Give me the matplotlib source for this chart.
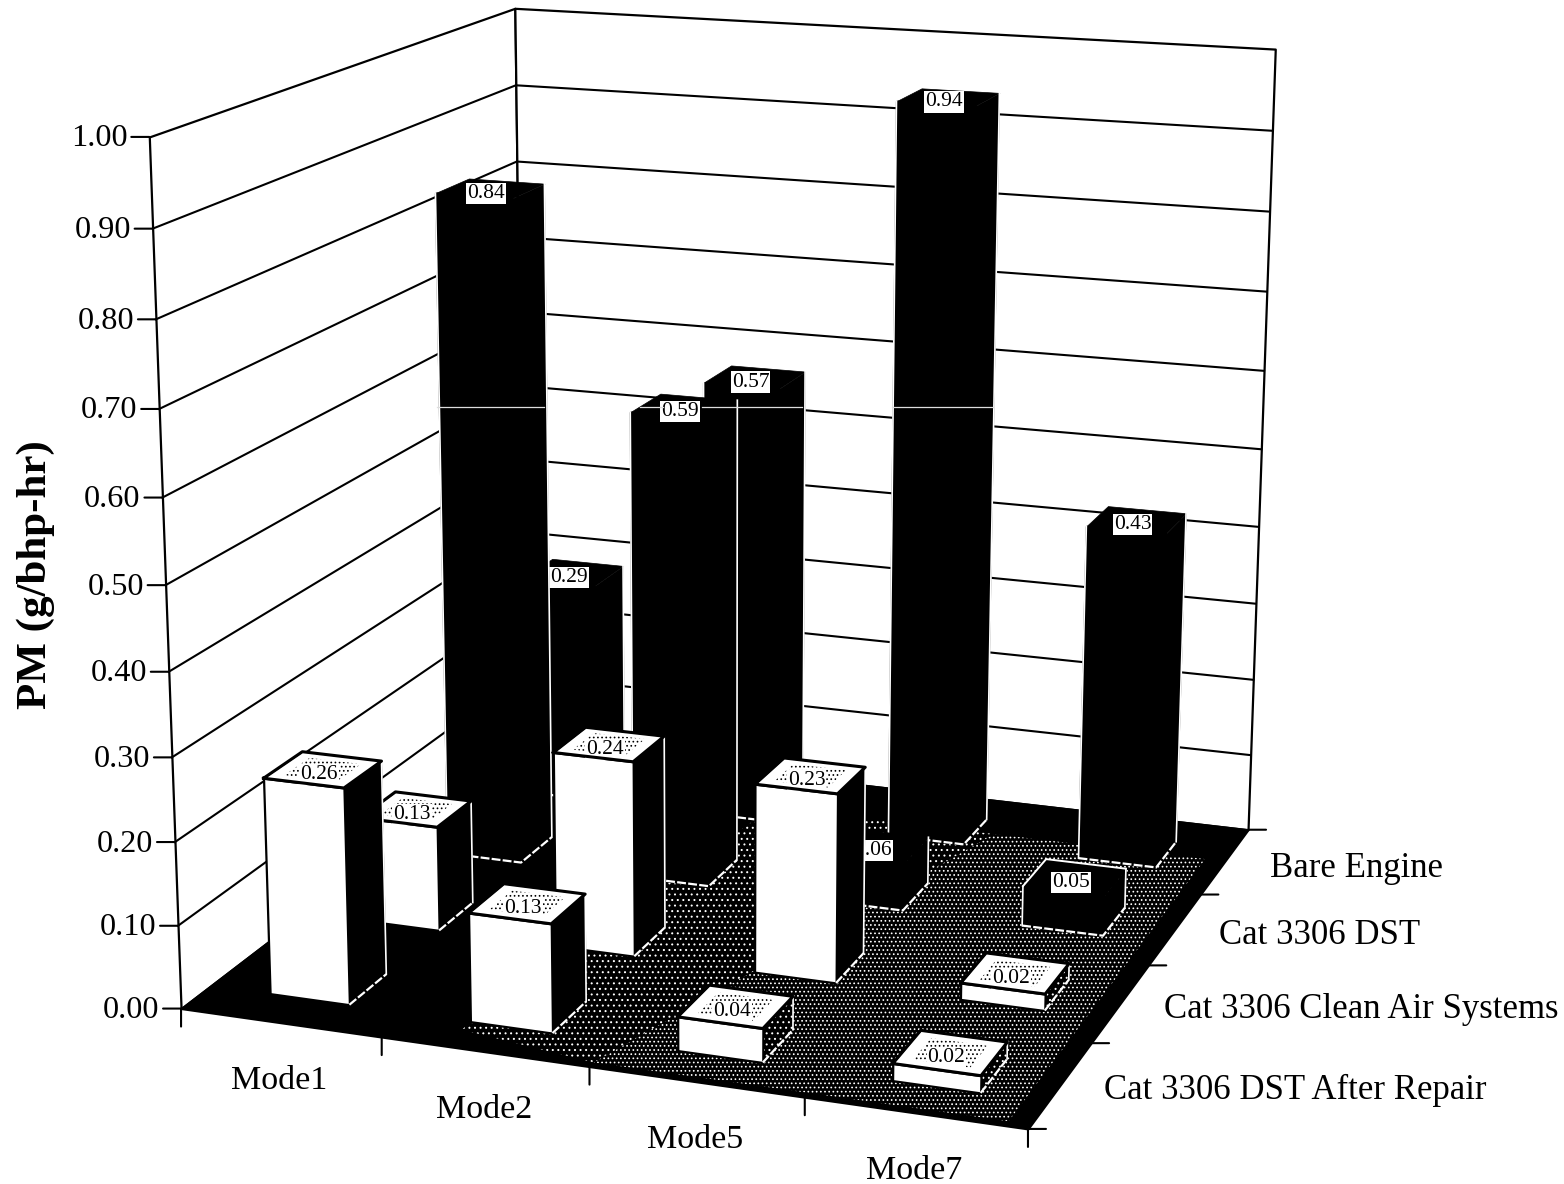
import numpy as np
import matplotlib
matplotlib.use("Agg")
import matplotlib.pyplot as plt
from matplotlib.lines import Line2D
from mpl_toolkits.mplot3d.art3d import Poly3DCollection
from mpl_toolkits.mplot3d import proj3d

plt.rcParams['font.family'] = ['Liberation Serif', 'DejaVu Serif']
plt.rcParams['hatch.linewidth'] = 0.7

# PM emissions per mode, one list per exhaust configuration (front row to back row)
modes = ["Mode1", "Mode2", "Mode5", "Mode7"]
series = ["Cat 3306 DST After Repair", "Cat 3306 Clean Air Systems", "Cat 3306 DST", "Bare Engine"]
after_repair = [0.26, 0.13, 0.04, 0.02]
clean_air = [0.13, 0.24, 0.23, 0.02]
dst = [0.84, 0.59, 0.06, 0.05]
bare_engine = [0.29, 0.57, 0.94, 0.43]
z_ticks = [0.0, 0.1, 0.2, 0.3, 0.4, 0.5, 0.6, 0.7, 0.8, 0.9, 1.0]

rows = [after_repair, clean_air, dst, bare_engine]
row_face = ["white", "white", "black", "black"]

BAR = 0.4  # bar width as a share of one cell
CLEAR = (0, 0, 0, 0)
BASE_DASH = (0, (4, 1))

fig = plt.figure(figsize=(15.64, 11.84), dpi=100)
ax = fig.add_axes([-80 / 1564, -157 / 1184, 1.0, 1564 / 1184], projection='3d')
ax.set_axis_off()
ax.computed_zorder = False
ax.patch.set_visible(False)

ax.set_xlim(-0.1808, 4)
ax.set_ylim(-0.1304, 4)
ax.set_zlim(-0.0558, 1)
ax.set_box_aspect((0.6000, 0.6022, 0.6075), zoom=0.9607)
ax.view_init(elev=15.4, azim=-70.0)
ax.set_proj_type('persp', focal_length=0.50)

M = ax.get_proj()
z_level = [10]


def next_z():
    z_level[0] += 1
    return z_level[0]


def to_2d(x, y, z):
    px, py, _ = proj3d.proj_transform(x, y, z, M)
    return float(px), float(py)


def add_poly(corners, face, edge='black', lw=1.5, hatch=None):
    poly = Poly3DCollection([corners], facecolor=face, edgecolor=edge, linewidth=lw,
                            hatch=hatch, zorder=next_z())
    ax.add_collection3d(poly)


def add_line(xs, ys, zs, color='black', lw=1.5, **kw):
    ax.plot(xs, ys, zs, color=color, lw=lw, zorder=next_z(), **kw)


def tick(x, y, z, dx, dy):
    ax.annotate('', xy=to_2d(x, y, z), xycoords='data', xytext=(dx, dy), textcoords='offset pixels',
                arrowprops=dict(arrowstyle='-', lw=1.5, color='black', shrinkA=0, shrinkB=0),
                annotation_clip=False, zorder=5000)


def label(text, x, y, z, dx, dy, size=25, **kw):
    ax.annotate(text, xy=to_2d(x, y, z), xycoords='data', xytext=(dx, dy), textcoords='offset pixels',
                fontsize=size, ha='center', va='center', annotation_clip=False, **kw)


# Walls and gridlines
add_poly([(0, 0, 0), (0, 4, 0), (0, 4, 1), (0, 0, 1)], 'white', lw=1.6)
add_poly([(0, 4, 0), (4, 4, 0), (4, 4, 1), (0, 4, 1)], 'white', lw=1.6)
for zt in z_ticks[1:-1]:
    add_line([0, 0, 4], [0, 4, 4], [zt, zt, zt])

# Floor: solid black with stippling that gets denser towards the right
add_poly([(0, 0, 0), (4, 0, 0), (4, 4, 0), (0, 4, 0)], 'black')
add_poly([(1.3, 0.2, 0), (2.0, 0.05, 0), (2.8, 3.5, 0), (1.6, 3.5, 0)], CLEAR, edge='white', lw=0, hatch='...')
add_poly([(2.0, 0.05, 0), (3.9, 0.05, 0), (3.9, 3.5, 0), (2.8, 3.5, 0)], CLEAR, edge='white', lw=0, hatch='....')

# Axis ticks
for zt in z_ticks:
    tick(0, 0, zt, -18, 0)
    label(f"{zt:.2f}", 0, 0, zt, -50, -2, size=23.2)
for i in range(5):
    tick(i, 0, 0, 0, -18)
    tick(4, i, 0, 18, 0)
for i, name in enumerate(modes):
    label(name, i + 0.5, 0, 0, -1, -58, size=24.5)
label_shift = [(235, -5), (241, -6), (145, -6), (132, -7)]
for j, name in enumerate(series):
    label(name, 4, j + 0.5, 0, *label_shift[j])

# Bars, painted from the back row to the front
for j in range(3, -1, -1):
    for i in range(4):
        value = rows[j][i]
        x0 = i + 0.5 - BAR / 2
        x1 = x0 + BAR
        y0 = j + 0.5 - BAR / 2
        y1 = y0 + BAR
        light = row_face[j] == "white"
        low = value < 0.1
        add_poly([(x1, y0, 0), (x1, y1, 0), (x1, y1, value), (x1, y0, value)],
                 'black', edge='white' if light else 'black', lw=0,
                 hatch='...' if light and low else None)
        add_poly([(x0, y0, 0), (x1, y0, 0), (x1, y0, value), (x0, y0, value)],
                 row_face[j], lw=1.6)
        add_poly([(x0, y0, value), (x1, y0, value), (x1, y1, value), (x0, y1, value)],
                 'white' if light else 'black', lw=0.5)
        if light:
            # stippled patch in the middle of the top face, under the value box
            inset = 0.07
            add_poly([(x0 + inset, y0 + inset, value), (x1 - inset, y0 + inset, value),
                      (x1 - inset, y1 - inset, value), (x0 + inset, y1 - inset, value)],
                     CLEAR, edge='black', lw=0, hatch='....')
        # pale base outline that shows up against the dark floor
        if light:
            add_line([x1, x1], [y0, y1], [0, 0], color='white', lw=1.6, linestyle=BASE_DASH)
        else:
            add_line([x0, x1, x1], [y0, y0, y1], [0, 0, 0], color='white', lw=1.6, linestyle=BASE_DASH)
            add_line([x0, x0], [y0, y0], [0, value], color='white', lw=1.2)
        add_line([x1, x1], [y1, y1], [0, value], color='white', lw=1.2)
        if value <= 0.05 and not light:
            add_line([x0, x0, x1], [y0, y1, y1], [value] * 3, color='white', lw=1.4)
        label(f"{value:.2f}", i + 0.5, j + 0.5, value, -4, -5, size=15.5, zorder=next_z(),
              bbox=dict(facecolor='white', edgecolor='none', pad=0.8))
        # top outline goes over the value box so the front edge stays unbroken
        if light:
            add_line([x0, x1, x1, x0, x0], [y0, y0, y1, y1, y0], [value] * 5, lw=2.2)

fig.text(36 / 1564, 1 - 575 / 1184, "PM (g/bhp-hr)", rotation=90, fontsize=31, fontweight='bold',
         ha='center', va='center')

# Thin pale streak running across the tall dark bars
for a, b in [(437, 544), (640, 663), (702, 802), (892, 993)]:
    fig.add_artist(Line2D([a / 1564, b / 1564], [1 - 407 / 1184] * 2, color='#dddddd', lw=0.9))

fig.savefig("out.png", dpi=100)
